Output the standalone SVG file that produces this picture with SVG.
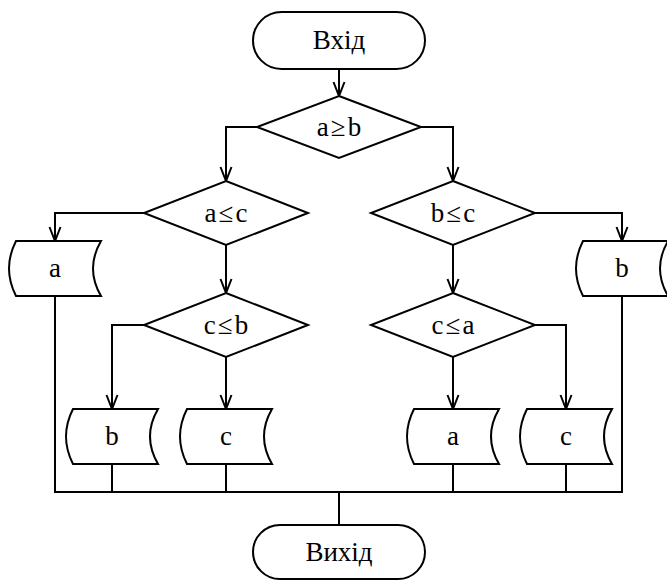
<svg xmlns="http://www.w3.org/2000/svg" width="667" height="580" viewBox="0 0 667 580">
<defs>
<marker id="arr" markerUnits="userSpaceOnUse" markerWidth="18" markerHeight="14" viewBox="-16 -7 18 14" refX="0" refY="0" orient="auto">
<path d="M -14,-5.5 L 0,0 L -14,5.5" fill="none" stroke="#000" stroke-width="2"/>
</marker>
<style>
.s{fill:#fff;stroke:#000;stroke-width:2}
.c{fill:none;stroke:#000;stroke-width:2}
.t{font-family:"Liberation Serif","Times New Roman",serif;font-size:27px;fill:#000;text-anchor:middle}
.d{letter-spacing:2px}
</style>
</defs>
<rect width="667" height="580" fill="#fff"/>
<g id="connectors">
<path class="c" d="M339,69 V96" marker-end="url(#arr)"/>
<path class="c" d="M257,127 H226 V181" marker-end="url(#arr)"/>
<path class="c" d="M421,127 H453 V181" marker-end="url(#arr)"/>
<path class="c" d="M144,213 H55 V241" marker-end="url(#arr)"/>
<path class="c" d="M535,213 H622 V241" marker-end="url(#arr)"/>
<path class="c" d="M226,245 V293" marker-end="url(#arr)"/>
<path class="c" d="M453,245 V293" marker-end="url(#arr)"/>
<path class="c" d="M144,325 H112 V409" marker-end="url(#arr)"/>
<path class="c" d="M226,357 V409" marker-end="url(#arr)"/>
<path class="c" d="M453,357 V409" marker-end="url(#arr)"/>
<path class="c" d="M535,325 H566 V409" marker-end="url(#arr)"/>
<path class="c" d="M55,296 V492 H622 V296"/>
<path class="c" d="M112,464 V492 M226,464 V492 M453,464 V492 M566,464 V492"/>
<path class="c" d="M339,492 V525"/>
</g>
<g id="start">
<rect class="s" x="253" y="12" width="172" height="57" rx="28.5"/>
<text class="t" x="339" y="49">Вхід</text>
</g>
<g id="d_ab">
<polygon class="s" points="339,96 421,127 339,158 257,127"/>
<text class="t d" x="340" y="136">a≥b</text>
</g>
<g id="d_ac">
<polygon class="s" points="226,181 308,213 226,245 144,213"/>
<text class="t d" x="227" y="222">a≤c</text>
</g>
<g id="d_bc">
<polygon class="s" points="453,181 535,213 453,245 371,213"/>
<text class="t d" x="454" y="222">b≤c</text>
</g>
<g id="d_cb">
<polygon class="s" points="226,293 308,325 226,357 144,325"/>
<text class="t d" x="227" y="334">c≤b</text>
</g>
<g id="d_ca">
<polygon class="s" points="453,293 535,325 453,357 371,325"/>
<text class="t d" x="454" y="334">c≤a</text>
</g>
<g id="out_a1">
<path class="s" d="M16,241 H101 Q85,268.5 101,296 H16 Q2,268.5 16,241 Z"/>
<text class="t" x="55" y="277">a</text>
</g>
<g id="out_b1">
<path class="s" d="M583,241 H668 Q652,268.5 668,296 H583 Q569,268.5 583,241 Z"/>
<text class="t" x="622" y="277">b</text>
</g>
<g id="out_b2">
<path class="s" d="M73,409 H158 Q142,436.5 158,464 H73 Q59,436.5 73,409 Z"/>
<text class="t" x="112" y="445">b</text>
</g>
<g id="out_c1">
<path class="s" d="M187,409 H272 Q256,436.5 272,464 H187 Q173,436.5 187,409 Z"/>
<text class="t" x="226" y="445">c</text>
</g>
<g id="out_a2">
<path class="s" d="M414,409 H499 Q483,436.5 499,464 H414 Q400,436.5 414,409 Z"/>
<text class="t" x="453" y="445">a</text>
</g>
<g id="out_c2">
<path class="s" d="M527,409 H612 Q596,436.5 612,464 H527 Q513,436.5 527,409 Z"/>
<text class="t" x="566" y="445">c</text>
</g>
<g id="end">
<rect class="s" x="253" y="525" width="172" height="54" rx="27"/>
<text class="t" x="339" y="561">Вихід</text>
</g>
</svg>
